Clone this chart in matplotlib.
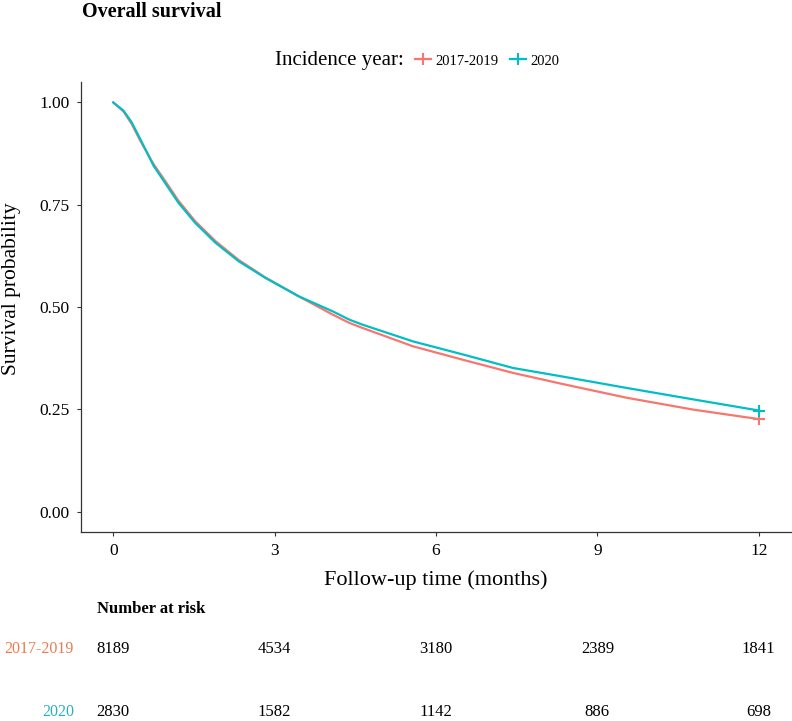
import numpy as np
import matplotlib.pyplot as plt
from matplotlib.lines import Line2D
from matplotlib.transforms import blended_transform_factory

plt.rcParams['font.family'] = ['Liberation Serif', 'DejaVu Serif']

#------------------------------------------------------------------#
# values
#------------------------------------------------------------------#
t_a = [0, 0.19, 0.34, 0.50, 0.75, 0.96, 1.21, 1.52, 1.90, 2.33, 2.83, 3.45,
       4.07, 4.39, 4.63, 5.57, 6.50, 7.43, 8.31, 9.55, 10.79, 12.0]
s_a = [1.0, 0.978, 0.948, 0.907, 0.849, 0.809, 0.760, 0.710, 0.661, 0.615, 0.572, 0.526,
       0.482, 0.461, 0.449, 0.404, 0.371, 0.339, 0.313, 0.278, 0.249, 0.226]   # 2017-2019
t_b = t_a
s_b = [1.0, 0.980, 0.952, 0.911, 0.845, 0.804, 0.755, 0.706, 0.657, 0.612, 0.571, 0.526,
       0.490, 0.469, 0.457, 0.416, 0.384, 0.351, 0.331, 0.302, 0.274, 0.247]   # 2020

groups = ['2017-2019', '2020']
risk_times = [0, 3, 6, 9, 12]
risk_a = [8189, 4534, 3180, 2389, 1841]
risk_b = [2830, 1582, 1142, 886, 698]

c_a = '#F8766D'; c_b = '#00BFC4'
lab_a = '#EC7A4F'; lab_b = '#2AAFC0'

W, H = 792, 721
fig = plt.figure(figsize=(W/100, H/100), dpi=100)
ax = fig.add_axes([81/W, 1-532/H, (791-81)/W, (532-82)/H])

ax.plot(t_a, s_a, color=c_a, lw=1.6)
ax.plot(t_b, s_b, color=c_b, lw=1.6)
ax.plot([t_a[-1]], [s_a[-1]], '+', color=c_a, ms=8, mew=1.5)
ax.plot([t_b[-1]], [s_b[-1]], '+', color=c_b, ms=8, mew=1.5)

ax.set_xlim(-0.6, 12.6); ax.set_ylim(-0.05, 1.05)
ax.set_xticks(risk_times)
ax.set_yticks([0, 0.25, 0.5, 0.75, 1.0])
ax.set_yticklabels(['0.00', '0.25', '0.50', '0.75', '1.00'])
for s in ['top', 'right']:
    ax.spines[s].set_visible(False)
for s in ['left', 'bottom']:
    ax.spines[s].set_linewidth(0.9)
    ax.spines[s].set_color('#333333')
ax.tick_params(labelsize=12.5, length=3, width=0.8, color='#333333', pad=5)
ax.set_xlabel('Follow-up time (months)', fontsize=16, labelpad=8)
ax.set_ylabel('Survival probability', fontsize=15.5)
ax.yaxis.set_label_coords(-0.085, 0.54)

fig.text(82/W, 1-12/H, 'Overall survival', fontsize=14.5, fontweight='bold', va='center', ha='left')

# legend
fig.text(275/W, 1-61/H, 'Incidence year:', fontsize=15, va='center', ha='left')
handles = [Line2D([], [], color=c_a, lw=1.6, marker='+', ms=8, mew=1.5),
           Line2D([], [], color=c_b, lw=1.6, marker='+', ms=8, mew=1.5)]
fig.legend(handles, groups, loc='center left', bbox_to_anchor=(415/W, 1-61/H), ncol=2,
           frameon=False, fontsize=10.5, handlelength=1.1, handletextpad=0.3,
           columnspacing=0.8, borderpad=0, borderaxespad=0)

# number at risk table
fig.text(97/W, 1-609/H, 'Number at risk', fontsize=12, fontweight='bold', va='center', ha='left')
tr = blended_transform_factory(ax.transData, fig.transFigure)
for yy, vals, g, col in [(649, risk_a, groups[0], lab_a), (712, risk_b, groups[1], lab_b)]:
    fig.text(74/W, 1-yy/H, g, fontsize=11.5, color=col, va='center', ha='right')
    for tt, v in zip(risk_times, vals):
        ax.text(tt, 1-yy/H, str(v), transform=tr, fontsize=12, va='center', ha='center')

plt.savefig('out.png', dpi=100)
